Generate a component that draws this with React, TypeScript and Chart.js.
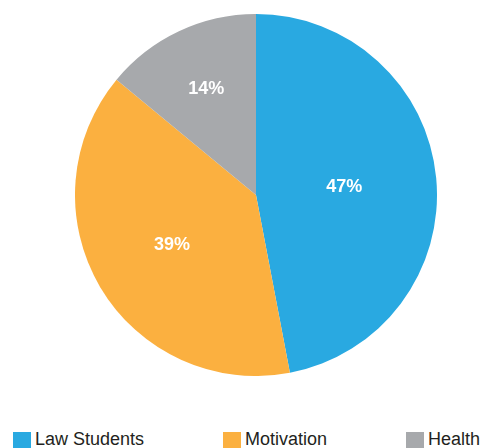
import React, { useEffect, useRef } from "react";
import { Chart, registerables } from "chart.js";

Chart.register(...registerables);

const categories = ["Law Students", "Motivation", "Health"];
const values = [47, 39, 14];
const colors = ["#29A9E1", "#FBB040", "#A7A9AC"];

const FONT = "'Liberation Sans', Arial, Helvetica, sans-serif";

const labelPlugin = {
  id: "sliceLabels",
  afterDatasetsDraw(chart: any) {
    const ctx = chart.ctx;
    const meta = chart.getDatasetMeta(0);
    const data = chart.data.datasets[0].data as number[];
    const total = data.reduce((a, b) => a + b, 0);
    ctx.save();
    ctx.fillStyle = "#ffffff";
    ctx.font = `bold 18px ${FONT}`;
    ctx.textAlign = "center";
    ctx.textBaseline = "middle";
    meta.data.forEach((arc: any, i: number) => {
      const { x, y, startAngle, endAngle, outerRadius } = arc.getProps(
        ["x", "y", "startAngle", "endAngle", "outerRadius"],
        true
      );
      const half = (endAngle - startAngle) / 2;
      const mid = (startAngle + endAngle) / 2;
      const centroid = (2 * outerRadius * Math.sin(half)) / (3 * half);
      const r = centroid * 0.8 + outerRadius * 0.13;
      const pct = Math.round((data[i] / total) * 100) + "%";
      ctx.fillText(pct, x + r * Math.cos(mid), y + r * Math.sin(mid));
    });
    ctx.restore();
  },
};

export default function App() {
  const canvasRef = useRef<HTMLCanvasElement>(null);

  useEffect(() => {
    if (!canvasRef.current) return;
    const chart = new Chart(canvasRef.current, {
      type: "pie",
      data: {
        labels: categories,
        datasets: [
          {
            data: values,
            backgroundColor: colors,
            borderWidth: 0,
          },
        ],
      },
      options: {
        responsive: false,
        animation: false,
        maintainAspectRatio: false,
        layout: { padding: 0 },
        plugins: {
          legend: { display: false },
          tooltip: { enabled: false },
        },
      },
      plugins: [labelPlugin],
    });
    return () => chart.destroy();
  }, []);

  return (
    <div
      style={{
        position: "fixed",
        left: 0,
        top: 0,
        width: 481,
        height: 448,
        background: "#ffffff",
        overflow: "hidden",
        fontFamily: FONT,
      }}
    >
      <canvas
        ref={canvasRef}
        width={362}
        height={362}
        style={{ position: "absolute", left: 75, top: 14, width: 362, height: 362 }}
      />
      <div
        style={{
          position: "absolute",
          left: 13,
          right: 1,
          top: 432,
          display: "flex",
          justifyContent: "space-between",
          alignItems: "flex-start",
        }}
      >
        {categories.map((c, i) => (
          <div key={c} style={{ display: "flex", alignItems: "flex-start" }}>
            <div
              style={{
                width: 18,
                height: 18,
                background: colors[i],
                marginRight: 4,
                flex: "none",
              }}
            />
            <span
              style={{
                fontSize: 18,
                lineHeight: "18px",
                color: "#231F20",
                marginTop: -2,
                whiteSpace: "nowrap",
              }}
            >
              {c}
            </span>
          </div>
        ))}
      </div>
    </div>
  );
}
